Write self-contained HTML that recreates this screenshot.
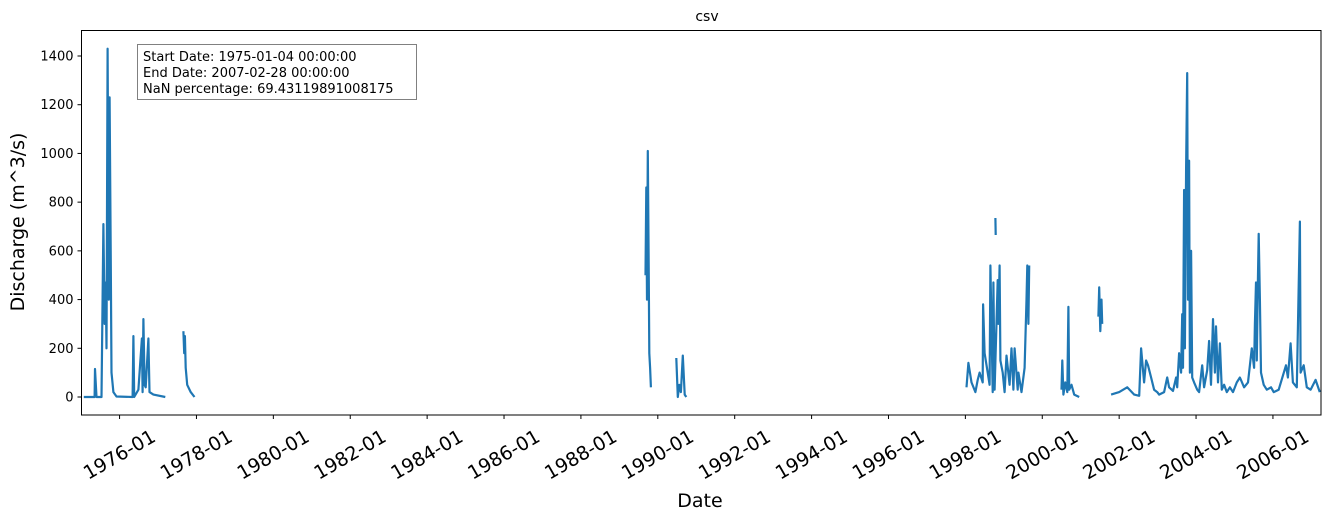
<!DOCTYPE html>
<html><head><meta charset="utf-8"><style>
body{margin:0;background:#fff;}
svg text{font-family:"DejaVu Sans","Liberation Sans",sans-serif;fill:#000;}
</style></head><body>
<svg id="chart" width="1330" height="521" xmlns="http://www.w3.org/2000/svg">
<text x="707" y="21" font-size="14" text-anchor="middle">csv</text>
<g id="plot"></g>
<rect x="81.5" y="30.5" width="1239.5" height="384.5" fill="none" stroke="#000" stroke-width="1"/>
<g id="yticks"></g>
<g id="xticks"></g>
<text x="700" y="507" font-size="19" text-anchor="middle">Date</text>
<text transform="translate(24,222) rotate(-90)" font-size="19" text-anchor="middle">Discharge (m^3/s)</text>
<g>
<rect x="137.5" y="44.5" width="279" height="55" fill="#fff" stroke="#808080" stroke-width="1"/>
<text x="143" y="61" font-size="13">Start Date: 1975-01-04 00:00:00</text>
<text x="143" y="77" font-size="13">End Date: 2007-02-28 00:00:00</text>
<text x="143" y="93" font-size="13">NaN percentage: 69.43119891008175</text>
</g>
</svg>
<script>
const yTicks=[0,200,400,600,800,1000,1200,1400];
const xTickYears=[1976,1978,1980,1982,1984,1986,1988,1990,1992,1994,1996,1998,2000,2002,2004,2006];
const seg1Years=[1975.07,1975.35,1975.36,1975.40,1975.53,1975.56,1975.58,1975.61,1975.64,1975.66,1975.69,1975.72,1975.74,1975.77,1975.79,1975.84,1975.92,1976.34,1976.36,1976.38,1976.49,1976.58,1976.60,1976.62,1976.65,1976.68,1976.75,1976.78,1976.88,1977.19];
const seg1Vals=[0,0,115,0,0,410,710,300,470,200,1430,400,1230,600,100,20,2,0,250,0,30,240,20,320,50,40,240,20,10,0];
const seg2Years=[1977.66,1977.68,1977.70,1977.72,1977.76,1977.85,1977.95];
const seg2Vals=[270,180,250,120,50,20,0];
const seg3Years=[1989.68,1989.70,1989.72,1989.74,1989.76,1989.78,1989.80,1989.82];
const seg3Vals=[500,860,400,1010,590,180,120,40];
const seg4Years=[1990.48,1990.52,1990.56,1990.60,1990.65,1990.70,1990.74];
const seg4Vals=[160,0,50,20,170,10,0];
const seg5Years=[1998.03,1998.08,1998.16,1998.26,1998.32,1998.37,1998.45,1998.46,1998.50,1998.58,1998.63,1998.65,1998.71,1998.73,1998.76,1998.84,1998.86,1998.89,1998.91,1998.97,1999.02,1999.07,1999.15,1999.20,1999.25,1999.28,1999.36,1999.38,1999.46,1999.54,1999.59,1999.61,1999.64,1999.66];
const seg5Vals=[40,140,60,20,70,100,60,380,180,100,50,540,20,470,30,480,300,540,150,100,20,170,50,200,30,200,30,100,20,120,400,540,300,540];
const seg6Years=[1998.78,1998.79];
const seg6Vals=[735,665];
const seg7Years=[2000.50,2000.52,2000.55,2000.60,2000.65,2000.68,2000.70,2000.76,2000.83,2000.96];
const seg7Vals=[30,150,10,60,20,370,30,50,10,0];
const seg8Years=[2001.46,2001.48,2001.51,2001.54,2001.56];
const seg8Vals=[330,450,270,400,300];
const seg9Years=[2001.79,2002.00,2002.21,2002.39,2002.52,2002.57,2002.65,2002.70,2002.75,2002.83,2002.91,2002.99,2003.04,2003.17,2003.25,2003.30,2003.40,2003.48,2003.51,2003.56,2003.61,2003.64,2003.66,2003.69,2003.71,2003.74,2003.77,2003.79,2003.82,2003.84,2003.87,2003.90,2003.95,2004.03,2004.08,2004.16,2004.21,2004.29,2004.34,2004.39,2004.44,2004.49,2004.52,2004.57,2004.62,2004.67,2004.73,2004.80,2004.88,2004.96,2005.06,2005.14,2005.25,2005.35,2005.45,2005.51,2005.53,2005.56,2005.58,2005.61,2005.63,2005.66,2005.69,2005.76,2005.84,2005.95,2006.02,2006.15,2006.34,2006.39,2006.46,2006.52,2006.62,2006.70,2006.72,2006.80,2006.88,2006.98,2007.11,2007.22];
const seg9Vals=[10,20,40,10,5,200,60,150,130,80,30,20,10,20,80,40,25,80,40,180,100,340,120,850,200,940,1330,400,970,100,600,80,60,30,20,130,40,110,230,50,320,100,290,60,220,30,50,20,40,20,60,80,40,60,200,120,300,470,150,480,670,400,100,50,30,40,20,30,130,80,220,60,40,720,100,130,40,30,70,20];
const segments=[[seg1Years,seg1Vals],[seg2Years,seg2Vals],[seg3Years,seg3Vals],[seg4Years,seg4Vals],[seg5Years,seg5Vals],[seg6Years,seg6Vals],[seg7Years,seg7Vals],[seg8Years,seg8Vals],[seg9Years,seg9Vals]];

const NS='http://www.w3.org/2000/svg';
const X0=81.5,X1=1321,D0=1975.01,D1=2007.25;
const xs=y=>X0+(y-D0)/(D1-D0)*(X1-X0);
const ys=v=>397-v*(341/1400);
const plot=document.getElementById('plot');
const clip=document.createElementNS(NS,'clipPath');clip.setAttribute('id','cp');
const cr=document.createElementNS(NS,'rect');cr.setAttribute('x',X0);cr.setAttribute('y',30);cr.setAttribute('width',X1-X0);cr.setAttribute('height',385);
clip.appendChild(cr);plot.appendChild(clip);
segments.forEach((s,i)=>{
  const p=document.createElementNS(NS,'polyline');
  p.setAttribute('points',s[0].map((y,j)=>xs(y).toFixed(1)+','+ys(s[1][j]).toFixed(1)).join(' '));
  p.setAttribute('fill','none');p.setAttribute('stroke','#1f77b4');p.setAttribute('stroke-width','2.2');
  p.setAttribute('stroke-linejoin','round');p.setAttribute('clip-path','url(#cp)');
  
  
  plot.appendChild(p);
});
const yg=document.getElementById('yticks');
yTicks.forEach(v=>{
  const l=document.createElementNS(NS,'line');
  l.setAttribute('x1',X0-4);l.setAttribute('x2',X0);l.setAttribute('y1',ys(v));l.setAttribute('y2',ys(v));l.setAttribute('stroke','#000');
  
  
  yg.appendChild(l);
  const t=document.createElementNS(NS,'text');
  t.setAttribute('x',X0-8);t.setAttribute('y',ys(v)+4.5);t.setAttribute('text-anchor','end');t.setAttribute('font-size','13');
  t.textContent=v;
  
  
  yg.appendChild(t);
});
const xg=document.getElementById('xticks');
xTickYears.forEach(yr=>{
  const x=xs(yr);
  const l=document.createElementNS(NS,'line');
  l.setAttribute('x1',x);l.setAttribute('x2',x);l.setAttribute('y1',415);l.setAttribute('y2',419);l.setAttribute('stroke','#000');
  
  
  xg.appendChild(l);
  const t=document.createElementNS(NS,'text');
  t.setAttribute('transform','translate('+x+',455) rotate(-30)');
  t.setAttribute('text-anchor','middle');t.setAttribute('dominant-baseline','central');t.setAttribute('font-size','19');
  t.textContent=yr+'-01';
  
  
  xg.appendChild(t);
});
</script>
</body></html>
